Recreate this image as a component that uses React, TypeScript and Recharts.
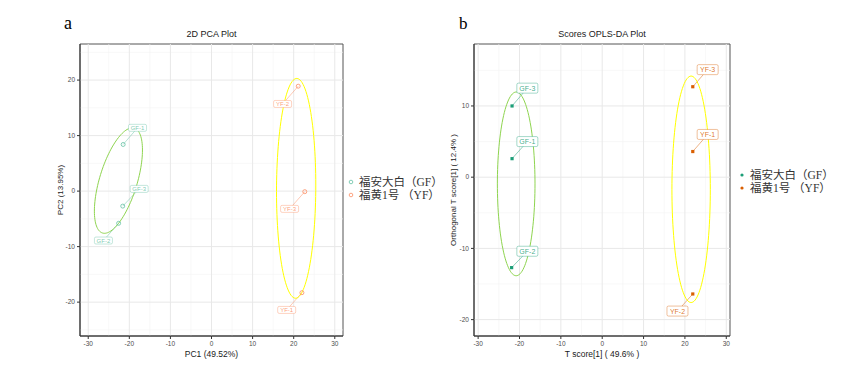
import React from 'react';
import { ScatterChart, Scatter, XAxis, YAxis, ReferenceLine, ReferenceArea, ReferenceDot } from 'recharts';

// ---- 2D PCA scores ----
const pcaGF = [
  { name: 'GF-1', x: -21.5, y: 8.4 },
  { name: 'GF-3', x: -21.6, y: -2.7 },
  { name: 'GF-2', x: -22.6, y: -5.8 },
];
const pcaYF = [
  { name: 'YF-2', x: 21.1, y: 18.9 },
  { name: 'YF-3', x: 22.7, y: -0.1 },
  { name: 'YF-1', x: 22.0, y: -18.3 },
];
// where ggrepel put the sample labels
const pcaLabelAt: Record<string, [number, number]> = {
  'GF-1': [-18.0, 11.4],
  'GF-3': [-17.6, 0.4],
  'GF-2': [-26.3, -8.9],
  'YF-2': [17.3, 15.7],
  'YF-3': [19.0, -3.2],
  'YF-1': [18.3, -21.4],
};
// confidence ellipses as drawn (centre, half width, half height, tilt)
const pcaEllipses = [
  { cx: -22.65, cy: 1.9, rx: 5.85, ry: 9.5, tilt: 0.58, color: '#8ED44F' },
  { cx: 20.6, cy: 0.5, rx: 4.78, ry: 19.8, tilt: 0.03, color: '#FFFF00' },
];

// ---- OPLS-DA scores ----
const oplsGF = [
  { name: 'GF-3', x: -21.8, y: 10.0 },
  { name: 'GF-1', x: -21.8, y: 2.6 },
  { name: 'GF-2', x: -21.9, y: -12.7 },
];
const oplsYF = [
  { name: 'YF-3', x: 21.9, y: 12.7 },
  { name: 'YF-1', x: 21.9, y: 3.6 },
  { name: 'YF-2', x: 21.9, y: -16.4 },
];
const oplsLabelAt: Record<string, [number, number]> = {
  'GF-3': [-18.1, 12.5],
  'GF-1': [-18.1, 5.0],
  'GF-2': [-18.1, -10.4],
  'YF-3': [25.5, 15.1],
  'YF-1': [25.5, 6.0],
  'YF-2': [18.2, -18.8],
};
const oplsEllipses = [
  { cx: -20.8, cy: -0.94, rx: 4.55, ry: 12.9, tilt: 0, color: '#8ED44F' },
  { cx: 21.5, cy: -1.7, rx: 4.64, ry: 15.9, tilt: 0, color: '#FFFF00' },
];

const groupNames = ['福安大白（GF）', '福黄1号 （YF）'];

const xTicks = [-30, -20, -10, 0, 10, 20, 30];
const xMinor = [-25, -15, -5, 5, 15, 25];
const pcaYTicks = [-20, -10, 0, 10, 20];
const pcaYMinor = [-25, -15, -5, 5, 15, 25];
const oplsYTicks = [-20, -10, 0, 10];
const oplsYMinor = [-15, -5, 5, 15];

const SANS = '"Liberation Sans", Arial, sans-serif';
const CJK = '"Liberation Serif", "Noto Sans CJK SC", serif';

type Pt = { name: string; x: number; y: number };
type Ell = { cx: number; cy: number; rx: number; ry: number; tilt: number; color: string };

function ellipsePoints(e: Ell) {
  const pts: { x: number; y: number }[] = [];
  const k = Math.sqrt(1 - e.tilt * e.tilt);
  const n = 120;
  for (let i = 0; i <= n; i++) {
    const t = (i / n) * Math.PI * 2;
    pts.push({
      x: e.cx + e.rx * Math.cos(t),
      y: e.cy + e.ry * (e.tilt * Math.cos(t) + k * Math.sin(t)),
    });
  }
  return pts;
}

interface PanelProps {
  left: number;
  width: number;
  yAxisWidth: number;
  rightMargin: number;
  xDomain: [number, number];
  yDomain: [number, number];
  yTicks: number[];
  yMinor: number[];
  xTitle: string;
  yTitle: string;
  yTitleX: number;
  groups: { pts: Pt[]; color: string }[];
  labelAt: Record<string, [number, number]>;
  ellipses: Ell[];
  filled: boolean;
  labelW: number;
  labelH: number;
  labelFont: number;
}

function Panel(p: PanelProps) {
  const labelShape = (name: string, color: string) => (props: any) => (
    <g>
      <rect
        x={props.cx - p.labelW / 2}
        y={props.cy - p.labelH / 2}
        width={p.labelW}
        height={p.labelH}
        rx={1.5}
        fill="#fff"
        stroke={color}
        strokeOpacity={0.65}
        strokeWidth={0.6}
      />
      <text
        x={props.cx}
        y={props.cy + p.labelFont * 0.36}
        textAnchor="middle"
        fontSize={p.labelFont}
        fontFamily={SANS}
        fill={color}
        fillOpacity={0.85}
      >
        {name}
      </text>
    </g>
  );

  const pointShape = (color: string) => (props: any) =>
    p.filled ? (
      <rect x={props.cx - 1.6} y={props.cy - 1.6} width={3.2} height={3.2} fill={color} />
    ) : (
      <circle cx={props.cx} cy={props.cy} r={2} fill="none" stroke={color} strokeWidth={0.8} />
    );

  return (
    <div style={{ position: 'absolute', left: p.left, top: 0 }}>
      <ScatterChart width={p.width} height={369} margin={{ top: 44, right: p.rightMargin, bottom: 0, left: 0 }}>
        <XAxis
          type="number"
          dataKey="x"
          domain={p.xDomain}
          ticks={xTicks}
          allowDataOverflow
          height={33}
          tickSize={3}
          tick={{ fontSize: 6.5, fill: '#4D4D4D', fontFamily: SANS }}
          tickLine={{ stroke: '#333' }}
          axisLine={{ stroke: '#333' }}
          label={{ value: p.xTitle, position: 'insideBottom', offset: 12, fontSize: 8.5, fill: '#1a1a1a', fontFamily: SANS }}
        />
        <YAxis
          type="number"
          dataKey="y"
          domain={p.yDomain}
          ticks={p.yTicks}
          allowDataOverflow
          width={p.yAxisWidth}
          tickSize={3}
          tick={{ fontSize: 6.5, fill: '#4D4D4D', fontFamily: SANS }}
          tickLine={{ stroke: '#333' }}
          axisLine={{ stroke: '#333' }}
          label={{
            content: ({ viewBox }: any) => {
              const cy = viewBox.y + viewBox.height / 2;
              return (
                <text
                  x={p.yTitleX}
                  y={cy}
                  transform={`rotate(-90 ${p.yTitleX} ${cy})`}
                  textAnchor="middle"
                  dominantBaseline="central"
                  fontSize={8}
                  fontFamily={SANS}
                  fill="#1a1a1a"
                >
                  {p.yTitle}
                </text>
              );
            },
          }}
        />
        {xMinor.map((v) => (
          <ReferenceLine key={`xm${v}`} x={v} stroke="#F3F3F3" strokeWidth={0.6} />
        ))}
        {p.yMinor.map((v) => (
          <ReferenceLine key={`ym${v}`} y={v} stroke="#F3F3F3" strokeWidth={0.6} />
        ))}
        {xTicks.map((v) => (
          <ReferenceLine key={`xM${v}`} x={v} stroke="#E8E8E8" strokeWidth={1} />
        ))}
        {p.yTicks.map((v) => (
          <ReferenceLine key={`yM${v}`} y={v} stroke="#E8E8E8" strokeWidth={1} />
        ))}
        <ReferenceArea
          x1={p.xDomain[0]}
          x2={p.xDomain[1]}
          y1={p.yDomain[0]}
          y2={p.yDomain[1]}
          fill="none"
          fillOpacity={0}
          stroke="#555"
          strokeWidth={1}
        />
        {p.ellipses.map((e, i) => (
          <Scatter
            key={`e${i}`}
            data={ellipsePoints(e)}
            line={{ stroke: e.color, strokeWidth: 1 }}
            shape={() => <g />}
            legendType="none"
            isAnimationActive={false}
          />
        ))}
        {p.groups.map((g, gi) =>
          g.pts.map((pt) => (
            <ReferenceLine
              key={`s${gi}${pt.name}`}
              segment={[
                { x: pt.x, y: pt.y },
                { x: p.labelAt[pt.name][0], y: p.labelAt[pt.name][1] },
              ]}
              stroke={g.color}
              strokeOpacity={0.8}
              strokeWidth={0.6}
            />
          ))
        )}
        {p.groups.map((g, gi) => (
          <Scatter key={`g${gi}`} data={g.pts} shape={pointShape(g.color)} isAnimationActive={false} />
        ))}
        {p.groups.map((g, gi) =>
          g.pts.map((pt) => (
            <ReferenceDot
              key={`l${gi}${pt.name}`}
              x={p.labelAt[pt.name][0]}
              y={p.labelAt[pt.name][1]}
              shape={labelShape(pt.name, g.color)}
            />
          ))
        )}
      </ScatterChart>
    </div>
  );
}

function GroupLegend({ left, top, colors, hollow }: { left: number; top: number; colors: string[]; hollow: boolean }) {
  return (
    <svg style={{ position: 'absolute', left, top }} width={100} height={30}>
      {groupNames.map((n, i) => (
        <g key={n}>
          {hollow ? (
            <circle cx={4} cy={6 + i * 13} r={1.8} fill="none" stroke={colors[i]} strokeWidth={0.8} />
          ) : (
            <circle cx={4} cy={6 + i * 13} r={1.6} fill={colors[i]} />
          )}
          <text x={12} y={10 + i * 13} fontSize={11.5} fontFamily={CJK} fill="#333">
            {n}
          </text>
        </g>
      ))}
    </svg>
  );
}

export default function App() {
  return (
    <div style={{ position: 'absolute', left: 0, top: 0, width: 845, height: 369, background: '#fff', overflow: 'hidden' }}>
      <Panel
        left={0}
        width={420}
        yAxisWidth={80}
        rightMargin={77}
        xDomain={[-32, 32]}
        yDomain={[-26.1, 26.5]}
        yTicks={pcaYTicks}
        yMinor={pcaYMinor}
        xTitle="PC1 (49.52%)"
        yTitle="PC2 (13.95%)"
        yTitleX={60}
        groups={[
          { pts: pcaGF, color: '#66C2A5' },
          { pts: pcaYF, color: '#FC8D62' },
        ]}
        labelAt={pcaLabelAt}
        ellipses={pcaEllipses}
        filled={false}
        labelW={18}
        labelH={7}
        labelFont={6}
      />
      <Panel
        left={420}
        width={425}
        yAxisWidth={54}
        rightMargin={115}
        xDomain={[-31, 30.9]}
        yDomain={[-22.3, 18.7]}
        yTicks={oplsYTicks}
        yMinor={oplsYMinor}
        xTitle="T score[1] ( 49.6% )"
        yTitle="Orthogonal T score[1] ( 12.4% )"
        yTitleX={33}
        groups={[
          { pts: oplsGF, color: '#1B9E77' },
          { pts: oplsYF, color: '#D95F02' },
        ]}
        labelAt={oplsLabelAt}
        ellipses={oplsEllipses}
        filled={true}
        labelW={21}
        labelH={10}
        labelFont={7}
      />
      <GroupLegend left={347} top={176} colors={['#66C2A5', '#FC8D62']} hollow={true} />
      <GroupLegend left={738} top={169} colors={['#1B9E77', '#D95F02']} hollow={false} />
      <svg style={{ position: 'absolute', left: 0, top: 0, pointerEvents: 'none' }} width={845} height={60}>
        <text x={64} y={29} fontSize={18} fontFamily='"Liberation Serif", serif' fill="#000">a</text>
        <text x={459} y={29} fontSize={17} fontFamily='"Liberation Serif", serif' fill="#000">b</text>
        <text x={211.5} y={36.5} textAnchor="middle" fontSize={9} fontFamily={SANS} fill="#1a1a1a">2D PCA Plot</text>
        <text x={602} y={36.5} textAnchor="middle" fontSize={9} fontFamily={SANS} fill="#1a1a1a">Scores OPLS-DA Plot</text>
      </svg>
    </div>
  );
}
